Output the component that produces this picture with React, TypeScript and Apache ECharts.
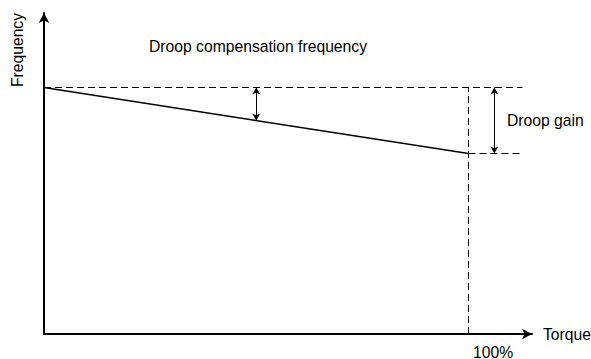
import React, { useEffect, useRef } from "react";
import * as echarts from "echarts";

const torque = [0, 100];
const frequency = [76.79, 56.23];
const xMax = 114.96;
const yMax = 100;
const dashEnd = 112.7;
const midArrowX = 50;
const gainArrowX = 106.1;
const tickLabel = "100%";
const xName = "Torque";
const yName = "Frequency";
const topNote = "Droop compensation frequency";
const gainNote = "Droop gain";

const FONT = "'Liberation Sans', Arial, sans-serif";

export default function App() {
  const ref = useRef<HTMLDivElement>(null);
  useEffect(() => {
    if (!ref.current) return;
    const chart = echarts.init(ref.current, null, { renderer: "svg" });
    const f0 = frequency[0];
    const f1 = frequency[1];
    const midY = f0 + ((f1 - f0) * (midArrowX - torque[0])) / (torque[1] - torque[0]);
    const dash = { color: "#000", width: 1, type: [7, 4] as any };
    chart.setOption({
      animation: false,
      grid: { left: 44, top: 13, right: 59, bottom: 25 },
      xAxis: {
        type: "value",
        min: 0,
        max: xMax,
        axisLine: { show: true, lineStyle: { color: "#000", width: 2 }, symbol: ["none", "arrow"], symbolSize: [8, 10] },
        axisTick: { show: false },
        axisLabel: { show: false },
        splitLine: { show: false },
      },
      yAxis: {
        type: "value",
        min: 0,
        max: yMax,
        axisLine: { show: true, lineStyle: { color: "#000", width: 2 }, symbol: ["none", "arrow"], symbolSize: [8, 10] },
        axisTick: { show: false },
        axisLabel: { show: false },
        splitLine: { show: false },
      },
      series: [
        {
          type: "line",
          data: [[0, f0], [dashEnd, f0]],
          symbol: "none",
          lineStyle: dash,
          silent: true,
        },
        {
          type: "line",
          data: [[torque[1], f1], [dashEnd, f1]],
          symbol: "none",
          lineStyle: dash,
          silent: true,
        },
        {
          type: "line",
          data: [[torque[1], 0], [torque[1], f0]],
          symbol: "none",
          lineStyle: dash,
          silent: true,
        },
        {
          type: "line",
          data: torque.map((t, i) => [t, frequency[i]]),
          symbol: "none",
          lineStyle: { color: "#000", width: 1.5 },
          silent: true,
          markLine: {
            silent: true,
            symbol: ["arrow", "arrow"],
            symbolSize: [6, 7],
            label: { show: false },
            lineStyle: { color: "#000", width: 1, type: "solid" },
            data: [
              [{ coord: [midArrowX, f0] }, { coord: [midArrowX, midY] }],
              [{ coord: [gainArrowX, f0] }, { coord: [gainArrowX, f1] }],
            ],
          },
        },
      ],
      graphic: [
        {
          type: "text",
          x: 17,
          y: 50,
          rotation: Math.PI / 2,
          style: { text: yName, font: `15.7px ${FONT}`, fill: "#000", align: "center", verticalAlign: "middle" },
        },
        {
          type: "text",
          x: 258,
          y: 46,
          style: { text: topNote, font: `15.7px ${FONT}`, fill: "#000", align: "center", verticalAlign: "middle" },
        },
        {
          type: "text",
          x: 507,
          y: 120,
          style: { text: gainNote, font: `15.7px ${FONT}`, fill: "#000", align: "left", verticalAlign: "middle" },
        },
        {
          type: "text",
          x: 543,
          y: 334,
          style: { text: xName, font: `15.7px ${FONT}`, fill: "#000", align: "left", verticalAlign: "middle" },
        },
        {
          type: "text",
          x: 473,
          y: 352,
          style: { text: tickLabel, font: `15.7px ${FONT}`, fill: "#000", align: "left", verticalAlign: "middle" },
        },
      ],
    });
    return () => chart.dispose();
  }, []);
  return (
    <div
      ref={ref}
      style={{ position: "absolute", left: 0, top: 0, width: 591, height: 359, background: "#fff" }}
    />
  );
}
